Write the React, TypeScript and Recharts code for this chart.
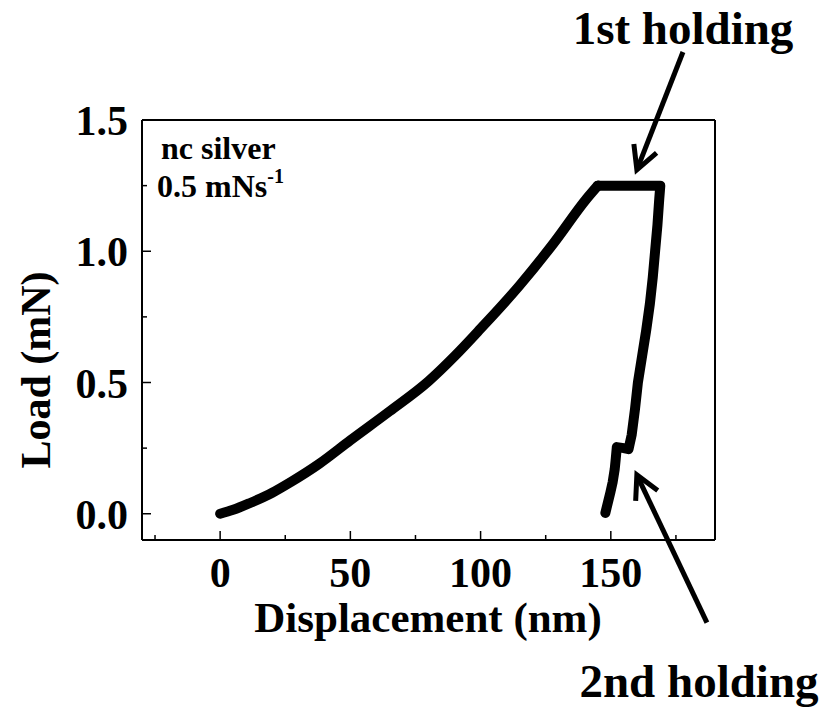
import React from 'react';
import { LineChart, Line, XAxis, YAxis, ReferenceLine } from 'recharts';

// displacement (nm) / load (mN)
const loadingDisp = [0, 5, 11.5, 20, 27, 38, 50, 65, 80, 90, 100, 115, 128, 140.7, 145];
const loadingLoad = [0, 0.015, 0.041, 0.08, 0.12, 0.19, 0.28, 0.39, 0.505, 0.6, 0.705, 0.87, 1.03, 1.2, 1.25];
const hold1Disp = [145, 150, 158, 164, 169];
const hold1Load = [1.25, 1.25, 1.25, 1.25, 1.25];
const unloadDisp = [168.6, 167.9, 167, 166.1, 165, 163.6, 162, 160.4, 159.3, 158, 156.8];
const unloadLoad = [1.2, 1.1, 1.0, 0.9, 0.8, 0.7, 0.6, 0.5, 0.4, 0.3, 0.246];
const hold2Disp = [155, 152.3];
const hold2Load = [0.25, 0.254];
const finalDisp = [151.9, 151.5, 150.7, 149.8, 147.9];
const finalLoad = [0.21, 0.17, 0.12, 0.08, 0.003];

const xTicks = [-25, 0, 25, 50, 75, 100, 125, 150, 175];
const yTicks = [0, 0.25, 0.5, 0.75, 1, 1.25, 1.5];

// arrows: [start, tip] in data units
const arrow1 = [{ x: 177.7, y: 1.759 }, { x: 160.0, y: 1.31 }];
const arrow2 = [{ x: 186.9, y: -0.415 }, { x: 160.0, y: 0.148 }];

const loading = loadingDisp.map((x, i) => ({ x, y: loadingLoad[i] }));
const restDisp = [...hold1Disp, ...unloadDisp, ...hold2Disp, ...finalDisp];
const restLoad = [...hold1Load, ...unloadLoad, ...hold2Load, ...finalLoad];
const rest = restDisp.map((x, i) => ({ x, y: restLoad[i] }));

const FONT = '"Liberation Serif", "Times New Roman", serif';

const isMajor = (v: number, step: number) => Math.abs(v / step - Math.round(v / step)) < 1e-6;

const makeTick = (side: 'bottom' | 'top' | 'left' | 'right') => (props: any) => {
  const { x, y, payload } = props;
  const v = payload.value;
  const major = side === 'bottom' || side === 'top' ? isMajor(v, 50) : isMajor(v, 0.5);
  const len = major ? 9 : 5;
  let line;
  if (side === 'bottom') line = <line x1={x} x2={x} y1={y} y2={y - len} stroke="#000" strokeWidth={1.5} />;
  else if (side === 'top') line = <line x1={x} x2={x} y1={y} y2={y + len} stroke="#000" strokeWidth={1.5} />;
  else if (side === 'left') line = <line x1={x} x2={x + len} y1={y} y2={y} stroke="#000" strokeWidth={1.5} />;
  else line = <line x1={x} x2={x - len} y1={y} y2={y} stroke="#000" strokeWidth={1.5} />;
  return (
    <g>
      {line}
      {major && side === 'bottom' && (
        <text x={x} y={y + 47} textAnchor="middle" fontFamily={FONT} fontWeight="bold" fontSize={42} fill="#000">
          {v}
        </text>
      )}
      {major && side === 'left' && (
        <text x={x - 14} y={y + 15} textAnchor="end" fontFamily={FONT} fontWeight="bold" fontSize={42} fill="#000">
          {v.toFixed(1)}
        </text>
      )}
    </g>
  );
};

const arrowShape = (props: any) => {
  const { x1, y1, x2, y2 } = props;
  const dx = x1 - x2;
  const dy = y1 - y2;
  const d = Math.sqrt(dx * dx + dy * dy);
  const ux = dx / d;
  const uy = dy / d;
  const L = 26;
  const a = (28 * Math.PI) / 180;
  const w1x = x2 + L * (Math.cos(a) * ux - Math.sin(a) * uy);
  const w1y = y2 + L * (Math.sin(a) * ux + Math.cos(a) * uy);
  const w2x = x2 + L * (Math.cos(a) * ux + Math.sin(a) * uy);
  const w2y = y2 + L * (-Math.sin(a) * ux + Math.cos(a) * uy);
  return (
    <g>
      <line x1={x1} y1={y1} x2={x2 + ux * 3} y2={y2 + uy * 3} stroke="#000" strokeWidth={5} />
      <polyline
        points={`${w1x},${w1y} ${x2},${y2} ${w2x},${w2y}`}
        fill="none"
        stroke="#000"
        strokeWidth={5}
        strokeLinejoin="miter"
      />
    </g>
  );
};

const axisProps = {
  type: 'number' as const,
  interval: 0 as const,
  tickSize: 0,
  tickMargin: 0,
  tickLine: false,
  axisLine: { stroke: '#000', strokeWidth: 2 },
};

const App = () => {
  return (
    <div style={{ position: 'absolute', left: 0, top: 0, background: '#fff' }}>
      <LineChart width={825} height={709} margin={{ top: 0, right: 0, bottom: 0, left: 0 }}>
        <XAxis {...axisProps} dataKey="x" domain={[-30, 190]} ticks={xTicks} height={169} tick={makeTick('bottom')} />
        <XAxis
          {...axisProps}
          xAxisId="top"
          orientation="top"
          dataKey="x"
          domain={[-30, 190]}
          ticks={xTicks}
          height={120}
          tick={makeTick('top')}
        />
        <YAxis {...axisProps} domain={[-0.1, 1.5]} ticks={yTicks} width={142} tick={makeTick('left')} />
        <YAxis
          {...axisProps}
          yAxisId="right"
          orientation="right"
          domain={[-0.1, 1.5]}
          ticks={yTicks}
          width={110}
          tick={makeTick('right')}
        />
        <Line
          data={loading}
          dataKey="y"
          type="monotone"
          stroke="#000"
          strokeWidth={10}
          strokeLinecap="round"
          strokeLinejoin="round"
          dot={false}
          isAnimationActive={false}
        />
        <Line
          data={rest}
          dataKey="y"
          type="linear"
          stroke="#000"
          strokeWidth={10}
          strokeLinecap="round"
          strokeLinejoin="round"
          dot={false}
          isAnimationActive={false}
        />
        <ReferenceLine segment={arrow1} ifOverflow="visible" stroke="#000" shape={arrowShape} />
        <ReferenceLine segment={arrow2} ifOverflow="visible" stroke="#000" shape={arrowShape} />

        <text x={428} y={632} textAnchor="middle" fontFamily={FONT} fontWeight="bold" fontSize={43} fill="#000">
          Displacement (nm)
        </text>
        <text
          x={50}
          y={370}
          transform="rotate(-90 50 370)"
          textAnchor="middle"
          fontFamily={FONT}
          fontWeight="bold"
          fontSize={42}
          fill="#000"
        >
          Load (mN)
        </text>
        <text x={161} y={159} fontFamily={FONT} fontWeight="bold" fontSize={32} fill="#000">
          nc silver
        </text>
        <text x={157} y={197} fontFamily={FONT} fontWeight="bold" fontSize={32} fill="#000">
          0.5 mNs
          <tspan fontSize={20} dy={-14}>-1</tspan>
        </text>
        <text x={683} y={44} textAnchor="middle" fontFamily={FONT} fontWeight="bold" fontSize={47} fill="#000">
          1st holding
        </text>
        <text x={699} y={697} textAnchor="middle" fontFamily={FONT} fontWeight="bold" fontSize={47} fill="#000">
          2nd holding
        </text>
      </LineChart>
    </div>
  );
};

export default App;
